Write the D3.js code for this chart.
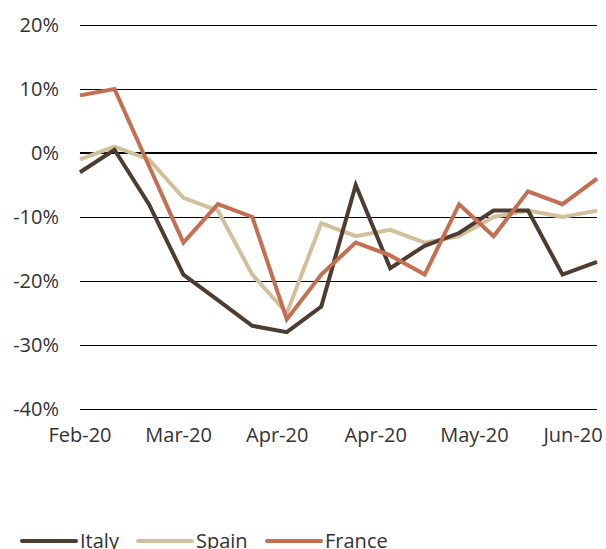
<!DOCTYPE html>
<html><head><meta charset="utf-8">
<script src="https://cdn.jsdelivr.net/npm/d3@7"></script>
<style>body{margin:0;background:#fff;} svg{display:block;} text{font-family:"Open Sans",sans-serif;fill:#333;}</style>
</head><body><svg id="c" width="606" height="549"></svg>
<script>
const seriesNames = ["Italy", "Spain", "France"];
const italy  = [-3, 0.5, -8, -19, -23, -27, -28, -24, -5, -18, -14.5, -12.5, -9, -9, -19, -17];
const spain  = [-1, 1, -1, -7, -9, -19, -25, -11, -13, -12, -14, -13, -10, -9, -10, -9];
const france = [9, 10, -2, -14, -8, -10, -26, -19, -14, -16, -19, -8, -13, -6, -8, -4];
const xLabels = ["Feb-20", "Mar-20", "Apr-20", "Apr-20", "May-20", "Jun-20"];
const yTicks = [20, 10, 0, -10, -20, -30, -40];
const colors = {Italy: "#4d3c30", Spain: "#d2bf9b", France: "#c46e52"};

const svg = d3.select("#c");
const y = d3.scaleLinear().domain([-40, 20]).range([409, 25]);
const x = d3.scalePoint().domain(d3.range(italy.length)).range([80, 597]);
const xl = d3.scalePoint().domain(d3.range(xLabels.length)).range([80, 573]);

// gridlines
svg.append("g").selectAll("line").data(yTicks).join("line")
  .attr("x1", 80).attr("x2", 597)
  .attr("y1", d => y(d)).attr("y2", d => y(d))
  .attr("stroke", "#000").attr("stroke-width", d => d === 0 ? 2 : 1)
  .attr("shape-rendering", "crispEdges");

// y labels
svg.append("g").selectAll("text").data(yTicks).join("text")
  .attr("x", 59).attr("y", d => y(d)).attr("dy", "0.35em")
  .attr("text-anchor", "end").attr("font-size", 20)
  .text(d => d + "%");

// x labels
svg.append("g").selectAll("text").data(xLabels).join("text")
  .attr("x", (d, i) => xl(i)).attr("y", 442)
  .attr("text-anchor", "middle").attr("font-size", 20)
  .text(d => d);

const data = {Italy: italy, Spain: spain, France: france};
const line = d3.line().x((d, i) => x(i)).y(d => y(d));
["Spain", "Italy", "France"].forEach(name => {
  svg.append("path").datum(data[name])
    .attr("fill", "none").attr("stroke", colors[name])
    .attr("stroke-width", 4).attr("stroke-linejoin", "miter")
    .attr("d", line);
});

// legend
const legX = [22, 138, 267];
const lg = svg.append("g").selectAll("g").data(seriesNames).join("g")
  .attr("transform", (d, i) => `translate(${legX[i]},541)`);
lg.append("line").attr("x1", 0).attr("x2", 54).attr("y1", 0).attr("y2", 0)
  .attr("stroke", d => colors[d]).attr("stroke-width", 4).attr("stroke-linecap", "round");
lg.append("text").attr("x", 58).attr("y", 7).attr("font-size", 20).text(d => d);
</script></body></html>
